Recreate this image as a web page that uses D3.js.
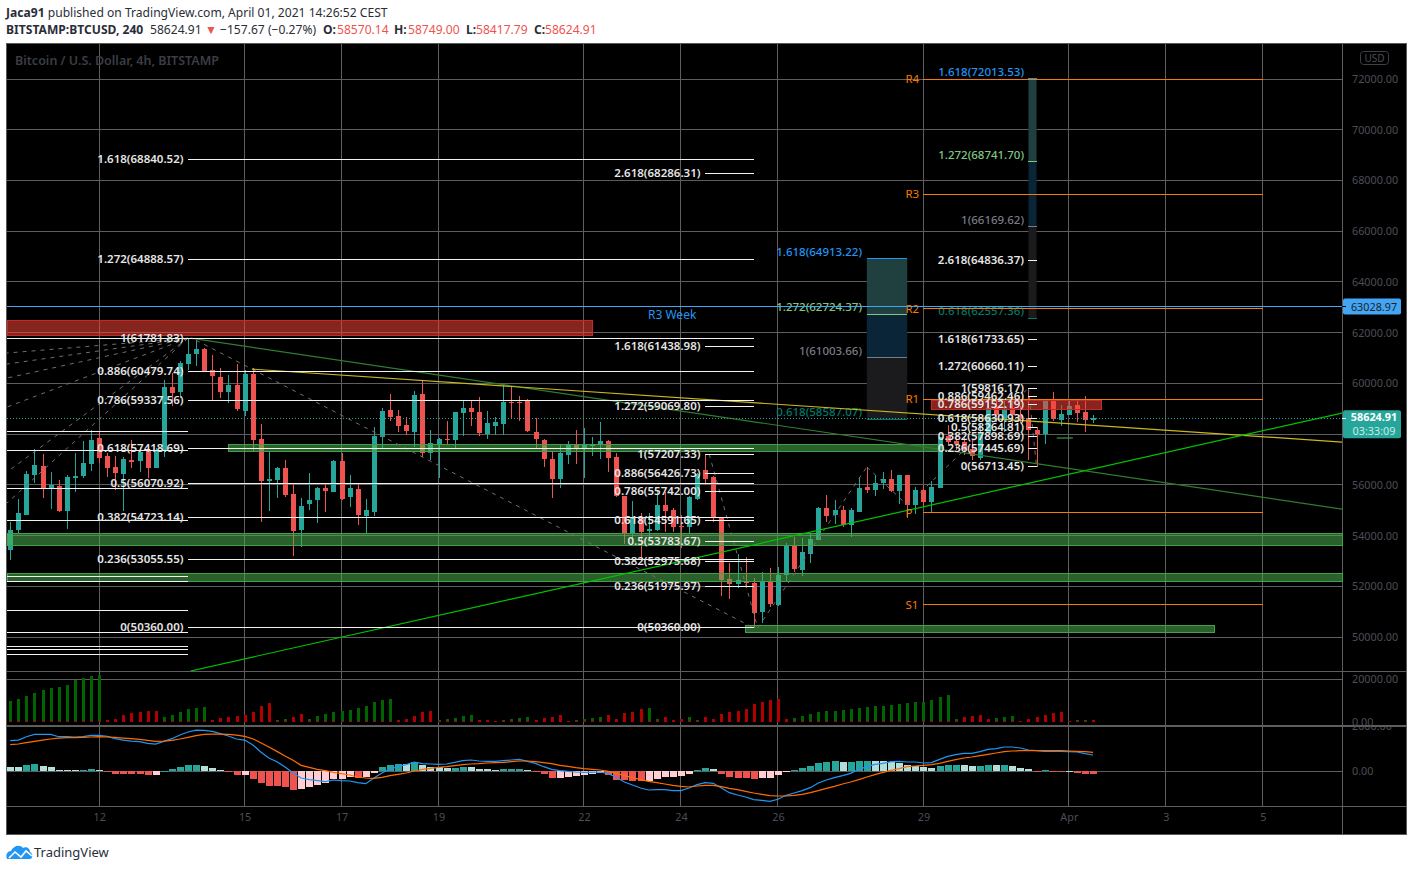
<!DOCTYPE html>
<html>
<head>
<meta charset="utf-8">
<script src="https://cdn.jsdelivr.net/npm/d3@7"></script>
<style>
  html, body { margin: 0; padding: 0; background: #fff; }
  svg { display: block; font-family: "Noto Sans", sans-serif; }
  .crisp { shape-rendering: crispEdges; }
</style>
</head>
<body>
<div id="chart"></div>
<script>
// bars are numbered from the 12 March 00:00 candle, 6 bars per day
const firstBar = -11;
const opens = [53428,54217,54808,56385,56740,55886,55952,54966,56280,56346,56819,57858,57148,56701,56425,56977,56937,57332,56662,57371,59855,59658,60762,61156,61354,60526,60250,59658,59934,58909,60368,57805,56149,56188,56662,55636,54217,55242,55400,55873,55715,56937,55518,55833,54769,54927,57884,58948,58712,
  58357,58095,59580,57267,57608,57805,57766,58831,59028,58870,58003,58318,58397,59264,59264,59343,58081,57766,57017,56228,57175,57569,57398,57529,57569,57727,57096,55558,54060,54691,54178,54217,55203,55006,54375,54336,55440,56583,56307,54691,52285,52088,52206,52128,50984,52206,51260,52443,53626,
  52640,53271,53823,55085,54809,55006,54414,54927,55913,55795,56071,56228,55755,56386,55203,55795,55321,55873,57924,57727,57687,57411,57056,58029,59080,58555,59015,58752,58621,58161,57990,59317,58555,58752,59146,58870,58570.14];
const closes = [54217,54900,56425,56780,55886,56004,54966,56294,56346,56846,57766,57069,56662,56464,57016,56898,57306,56662,57371,59855,59619,60802,61156,61354,60486,60302,59658,59934,58988,60368,57766,56149,56228,56662,55597,54177,55163,55400,55873,55755,56937,55439,55873,54808,55005,57923,58909,58672,58318,
  58121,59540,57267,57635,57805,57779,58870,59028,58870,58042,58436,58476,59264,59238,59238,58121,57805,57017,56228,57253,57569,57398,57608,57569,57727,57056,55558,54099,54691,54138,54257,55203,54966,54336,54349,55519,56425,56228,54730,52246,52088,52246,52128,50945,52206,51300,52443,53626,52680,
  53363,53862,55085,54769,55006,54414,55006,55873,55795,56071,56228,55755,56386,55203,55795,55321,55913,57884,57687,57608,57372,57135,58081,59015,58752,58949,58752,58621,58161,58003,59317,58581,58791,59107,58831,58555,58624.91];
const highs = [54545,55439,56556,57398,57214,56504,56188,56372,57240,57726,58160,58094,57240,57135,57108,57766,57503,57437,57437,60131,60394,60880,61774,61708,61380,61117,60591,60328,60762,60526,60591,58396,57332,56701,56977,56031,55479,56464,55925,56057,56977,57240,56385,56031,55439,58278,59014,59579,58948,
  58686,59711,60092,58160,57832,58515,58870,59304,59304,59461,58909,58673,59935,59895,59501,59383,58620,57805,57332,57569,57727,58160,58226,57884,58476,57766,57240,55558,55361,54875,54875,55795,55716,55085,54809,55558,56465,57175,56347,54691,52929,53271,53153,52325,52561,52719,52758,53692,53941,
  53889,54086,55137,55597,55400,55164,55085,56307,56701,56386,56504,56583,56386,56386,55926,55992,56149,57897,58357,58029,57924,57766,58423,59343,59409,59343,59500,59100,59803,58266,59343,59659,59146,59343,59343,59501,58749];
const lows = [53034,54085,54808,56083,55492,55045,54940,54256,55728,56280,56556,56846,56320,55794,54966,56648,56517,56254,56648,57108,59106,59408,60526,60696,60460,59343,59422,59238,58909,58712,57306,54545,54966,55479,55518,53192,53560,55005,54493,54940,55715,55400,55124,54414,54085,54769,57398,58515,58094,
  57963,57503,57083,56977,56255,57608,57437,57924,58318,57924,57805,57963,57963,58620,58515,58081,57451,56701,55479,55873,56820,56820,56255,57135,57017,56504,55532,53665,53692,53166,53889,54178,54138,54138,53508,54099,55400,55992,54533,51615,51497,51930,51930,50353,50550,51181,51221,52206,52561,
  52400,52929,53823,54546,54454,54323,53954,54927,55676,55558,55834,55716,55243,54677,54848,55164,54875,55873,57569,57372,57175,56977,56977,58029,58489,58100,58200,58450,56978,56713,57609,58529,58318,58752,58476,58082,58417.79];
const volumes = [9670,10610,12010,13420,14820,15760,16220,17160,19500,20440,21370,22000,780,1250,3120,4060,4520,4990,4990,2180,3120,4520,5930,6400,6860,780,1720,2180,2650,3120,4520,7330,8740,780,1250,2180,3590,1250,2650,3590,4520,4990,5460,6400,7330,9200,10140,10610,780,
  1250,2650,4520,4990,620,1250,1720,2650,3120,780,780,310,780,1250,1720,2180,780,1720,2180,3120,310,780,1250,1720,2180,3120,1250,4060,4520,5930,6400,1250,2180,780,1250,2180,780,2180,1250,3590,4520,4990,5930,8270,9200,10140,10610,1250,1720,
  2650,3590,4520,4990,4990,5460,5930,6400,6860,7330,7330,7800,8270,8740,9200,9200,10140,11540,12480,1250,2180,2650,3120,1250,1720,2180,2650,160,1250,2180,3120,4060,4520,310,620,780,620];
// "u" bars went up (green), "d" bars went down (red)
const volumeDirs = "uuuuuuuuuuuu"+"ddddddd"+"uuuuuu"+"dddddddd"+"uu"+"dd"+"uuuuuuuuuuu"+"ddddd"+"uuuuu"+"ddd"+"uuuu"+"dddd"+"uuuuu"+"ddddd"+"uu"+"ddd"+"uu"+"ddddddddddd"+"uuuuuuuuuuuuuuuuuuuuu"+"dddd"+"uuuu"+"dddddd"+"uu"+"dd";
const macdHist = [192,192,281,326,237,192,59,59,59,59,104,59,-15,-118,-118,-118,-118,-163,-163,15,104,192,281,281,237,148,59,-59,-163,-163,-340,-518,-651,-651,-696,-829,-784,-696,-607,-518,-340,-340,-252,-296,-252,-74,192,281,326,
  326,400,281,192,192,148,148,192,192,104,104,59,104,104,104,30,-30,-118,-296,-296,-252,-207,-163,-133,-89,-163,-385,-385,-429,-429,-429,-340,-252,-252,-207,-118,59,148,104,-118,-252,-296,-296,-340,-296,-296,-163,-30,59,
  148,237,370,414,459,414,414,459,459,459,459,414,370,281,237,192,148,237,281,281,281,237,237,281,281,281,237,148,104,-15,59,-15,-15,15,-74,-118,-118];
// t = rising above zero, l = falling above zero, r = falling below zero, p = rising below zero
const macdTones = "lltt"+"lllll"+"ttl"+"rrrrrr"+"p"+"ttttt"+"lll"+"rr"+"p"+"rrrrrr"+"ppppppp"+"r"+"pp"+"ttt"+"l"+"t"+"llll"+"tt"+"llll"+"ttt"+"l"+"rrr"+"pppppp"+"rrrrr"+"pppppp"+"tt"+"l"+"rrrrr"+"pppp"+"tttttt"+"l"+"ttt"+"llllllll"+"ttt"+"ll"+"tt"+"l"+"t"+"lll"+"r"+"t"+"rr"+"l"+"rrr";
const macdLine = [1347,1376,1524,1628,1628,1628,1524,1524,1510,1524,1584,1584,1539,1436,1376,1332,1302,1228,1199,1317,1436,1598,1732,1820,1806,1761,1658,1554,1421,1376,1169,844,577,414,178,-89,-311,-385,-429,-474,-400,-429,-444,-518,-562,-311,-89,89,192,
  281,400,326,311,296,311,385,459,488,444,429,429,459,488,518,429,340,192,74,15,-15,-44,-59,-59,-44,-118,-281,-488,-622,-755,-844,-829,-829,-873,-873,-755,-607,-518,-548,-755,-962,-1066,-1154,-1273,-1302,-1347,-1258,-1080,-977,
  -873,-740,-533,-400,-296,-207,-104,74,192,296,340,414,429,400,400,355,370,518,651,725,784,784,858,962,992,1066,1066,1021,932,903,873,873,873,858,844,770,710];
const signalLine = [1169,1199,1258,1317,1376,1421,1465,1480,1480,1495,1510,1524,1510,1495,1465,1436,1406,1362,1317,1332,1362,1421,1495,1569,1628,1643,1643,1628,1598,1539,1436,1258,1066,873,666,474,252,163,74,15,-59,-118,-178,-266,-311,-326,-281,-207,-148,
  -89,0,74,118,163,192,237,281,311,326,355,370,385,414,444,444,414,370,326,252,207,148,104,74,44,-15,-104,-207,-296,-385,-459,-518,-577,-636,-681,-710,-666,-636,-636,-696,-770,-829,-903,-977,-1036,-1095,-1110,-1110,-1080,
  -1036,-962,-873,-770,-681,-577,-488,-385,-266,-163,-59,30,104,192,222,252,281,340,429,503,577,622,681,740,799,858,888,903,903,903,903,903,903,888,873,858,829];

const priceTicks = d3.range(50000, 72001, 2000);
const timeTicks = [0, 18, 30, 42, 60, 72, 84, 102, 120, 132, 144];
const timeLabels = ["12", "15", "17", "19", "22", "24", "26", "29", "Apr", "3", "5"];
const lastPrice = 58624.91;
const weekR3 = 63028.97;

// fib drawings: [ratio, price]
const fibLeft = [[1.618,68840.52],[1.272,64888.57],[1,61781.83],[0.886,60479.74],[0.786,59337.56],[0.618,57418.69],[0.5,56070.92],[0.382,54723.14],[0.236,53055.55],[0,50360]];
const fibMiddle = [[2.618,68286.31],[1.618,61438.98],[1.272,59069.8],[1,57207.33],[0.886,56426.73],[0.786,55742],[0.618,54591.65],[0.5,53783.67],[0.382,52975.68],[0.236,51975.97],[0,50360]];
const fibRight = [[2.618,64836.37],[1.618,61733.65],[1.272,60660.11],[1,59816.17],[0.886,59462.46],[0.786,59152.19],[0.618,58630.93],[0.5,58264.81],[0.382,57898.69],[0.236,57445.69],[0,56713.45]];
const oldFibPrices = [61781.83,58121,57371,55873,54611,52391,52206,51063,50195,49616,49525,49316];
const boxMiddle = [[1.618,64913.22,"#2196f3"],[1.272,62724.37,"#81c784"],[1,61003.66,"#787b86"],[0.618,58587.07,"#00796b"]];
const boxRight = [[1.618,72013.53,"#2196f3"],[1.272,68741.7,"#81c784"],[1,66169.62,"#787b86"],[0.618,62557.36,"#00796b"]];
const boxFills = ["#203f3f", "#0a2438", "#1b1b1d"];
const pivotNames = ["R4", "R3", "R2", "R1", "P", "S1"];
const pivotPrices = [72000, 67450, 62950, 59370, 54890, 51280];
// zones: [first bar, last bar, top price, bottom price]
const redZones = [[-11.4,61,62497,61906],[103,124,59343,58950]];
const greenZones = [[16,104,57570,57330],[-11.4,153.8,54090,53620],[-11.4,153.8,52520,52200],[80,138,50470,50180]];
// lines: [bar, price, bar, price]
const trendDark = [11.3,61781,153.8,55045];
const trendBright = [11.3,48660,153.8,58830];
const trendYellow = [18.9,60562,153.8,57687];
const dashedLines = [
  [11,61781,-11.4,61196],[11,61781,-11.4,60762],[11,61781,-11.4,60210],[11,61781,-11.4,59067],[11,61781,-11.4,56504],[11,61781,-11.4,55282],
  [12,61700,81,50360],[75.5,57207,81.5,50360],[81.5,50360,95,56701],[95,56701,100,55203],[100,55203,115,59816],[115,59816,116,56713]
];

function drawChart() {
    const width = 1413, height = 871;
    const left = 7, right = 1342, top = 44, bottom = 834;
    const svg = d3.select("#chart").append("svg").attr("width", width).attr("height", height);

    const x = d3.scaleLinear().domain([-11.4, 153.8]).range([left, right]);
    const y = d3.scaleLinear().domain([50000, 72000]).range([637, 79]);
    const yVol = d3.scaleLinear().domain([0, 20000]).range([721.7, 679]);
    const yMacd = d3.scaleLinear().domain([-2000, 2000]).range([816, 726]);
    const bars = d3.range(opens.length);
    const barX = i => x(firstBar + i);
    const snap = v => Math.floor(v) + .5;
    const up = "#26a69a", down = "#ef5350", grid = "#5e5e5e";

    svg.append("rect").attr("x", 6.5).attr("y", 43.5).attr("width", 1400).attr("height", 791)
        .attr("fill", "#000").attr("stroke", "#5a5a5a").attr("class", "crisp");

    svg.append("defs").append("clipPath").attr("id", "mainClip")
        .append("rect").attr("x", left).attr("y", top).attr("width", right - left).attr("height", 671 - top);
    svg.select("defs").append("clipPath").attr("id", "macdAxisClip")
        .append("rect").attr("x", 0).attr("y", 726).attr("width", 66).attr("height", 60);

    // grid
    const gridG = svg.append("g").attr("class", "crisp").attr("stroke", grid);
    gridG.selectAll("line.h").data(priceTicks).enter().append("line")
        .attr("x1", left).attr("x2", right).attr("y1", d => snap(y(d))).attr("y2", d => snap(y(d)));
    gridG.selectAll("line.v").data(timeTicks).enter().append("line")
        .attr("x1", d => snap(x(d))).attr("x2", d => snap(x(d))).attr("y1", top).attr("y2", 806);
    [[20000, yVol], [0, yMacd]].forEach(([v, sc]) => {
        gridG.append("line").attr("x1", left).attr("x2", right).attr("y1", snap(sc(v))).attr("y2", snap(sc(v)));
    });
    [671, 725, 726, 806].forEach(v => {
        gridG.append("line").attr("x1", left).attr("x2", 1406).attr("y1", v + .5).attr("y2", v + .5);
    });
    gridG.append("line").attr("x1", right + .5).attr("x2", right + .5).attr("y1", top).attr("y2", bottom);

    // candles
    const candles = svg.append("g").selectAll("g").data(bars).enter().append("g")
        .attr("fill", i => closes[i] >= opens[i] ? up : down);
    candles.append("rect").attr("class", "crisp")
        .attr("x", i => Math.round(barX(i))).attr("width", 1)
        .attr("y", i => y(highs[i])).attr("height", i => y(lows[i]) - y(highs[i]));
    candles.append("rect").attr("class", "crisp")
        .attr("x", i => Math.round(barX(i)) - 2).attr("width", 5)
        .attr("y", i => y(Math.max(opens[i], closes[i])))
        .attr("height", i => Math.max(1, Math.abs(y(opens[i]) - y(closes[i]))));

    // volume
    const volG = svg.append("g").attr("class", "crisp");
    volG.selectAll("rect.v").data(bars).enter().append("rect")
        .attr("x", i => Math.round(barX(i)) - 1).attr("width", 3)
        .attr("y", i => yVol(volumes[i])).attr("height", i => yVol(0) - yVol(volumes[i]))
        .attr("fill", i => volumeDirs[i] === "u" ? "#006400" : "#b00000");
    volG.selectAll("rect.b").data(bars).enter().append("rect")
        .attr("x", i => Math.round(barX(i)) - 1).attr("width", 3)
        .attr("y", yVol(0) - .5).attr("height", 1).attr("fill", "#b00000");

    // macd
    const toneColor = { t: up, l: "#b2dfdb", r: down, p: "#ffcdd2" };
    svg.append("g").attr("class", "crisp").selectAll("rect").data(bars).enter().append("rect")
        .attr("x", i => Math.round(barX(i)) - 3).attr("width", 7)
        .attr("y", i => Math.min(yMacd(macdHist[i]), yMacd(0)))
        .attr("height", i => Math.max(1, Math.abs(yMacd(macdHist[i]) - yMacd(0))))
        .attr("fill", i => toneColor[macdTones[i]]);
    const lineGen = vals => d3.line().x(i => barX(i)).y(i => yMacd(vals[i]))(bars);
    svg.append("path").attr("d", lineGen(macdLine)).attr("fill", "none").attr("stroke", "#2196f3").attr("stroke-width", 1.2);
    svg.append("path").attr("d", lineGen(signalLine)).attr("fill", "none").attr("stroke", "#ff6d00").attr("stroke-width", 1.2);

    // fib boxes sit under everything else
    function fibBox(levels, from, to, labelEnd) {
        for (let k = 0; k < levels.length - 1; k++) {
            svg.append("rect").attr("x", x(from)).attr("width", x(to) - x(from))
                .attr("y", y(levels[k][1])).attr("height", y(levels[k + 1][1]) - y(levels[k][1]))
                .attr("fill", boxFills[k]);
        }
        levels.forEach(d => {
            svg.append("line").attr("class", "crisp").attr("x1", x(from)).attr("x2", x(to))
                .attr("y1", snap(y(d[1]))).attr("y2", snap(y(d[1]))).attr("stroke", d[2]);
            svg.append("text").attr("x", labelEnd).attr("y", y(d[1]) - 3).attr("text-anchor", "end")
                .attr("font-size", 11.5).attr("font-weight", 500).attr("fill", d[2]).text(`${d[0]}(${d[1].toFixed(2)})`);
        });
    }

    // zones
    greenZones.forEach(z => {
        svg.append("rect").attr("x", x(z[0])).attr("width", x(z[1]) - x(z[0]))
            .attr("y", y(z[2])).attr("height", y(z[3]) - y(z[2]))
            .attr("fill", "rgba(76,175,80,.55)").attr("stroke", "#43a047").attr("class", "crisp");
    });
    redZones.forEach(z => {
        svg.append("rect").attr("x", x(z[0])).attr("width", x(z[1]) - x(z[0]))
            .attr("y", y(z[2])).attr("height", y(z[3]) - y(z[2]))
            .attr("fill", "rgba(244,67,54,.55)").attr("stroke", "#c62828").attr("class", "crisp");
    });

    fibBox(boxMiddle, 95, 100, 862);
    fibBox(boxRight, 115, 116, 1024);

    // trend lines
    const drawings = svg.append("g").attr("clip-path", "url(#mainClip)");
    const segment = (d, color, w, dash) => drawings.append("line")
        .attr("x1", x(d[0])).attr("y1", y(d[1])).attr("x2", x(d[2])).attr("y2", y(d[3]))
        .attr("stroke", color).attr("stroke-width", w).attr("stroke-dasharray", dash || null);
    dashedLines.forEach(d => segment(d, "#6f6f6f", 1, "4 5"));
    segment(trendDark, "#2e7d32", 1.2);
    segment(trendYellow, "#c9b81e", 1.2);
    segment(trendBright, "#00c400", 1.2);
    segment([118.5,57845,120.5,57845], "#2e9e44", 1.2);

    // pivots
    pivotPrices.forEach((p, k) => {
        svg.append("line").attr("class", "crisp").attr("x1", x(102)).attr("x2", x(144))
            .attr("y1", snap(y(p))).attr("y2", snap(y(p))).attr("stroke", "#f57c00");
        svg.append("text").attr("x", x(102) - 18).attr("y", y(p) + 4).attr("font-size", 11.5)
            .attr("fill", "#f57c00").text(pivotNames[k]);
    });

    // R3 week and the last price line
    svg.append("line").attr("class", "crisp").attr("x1", left).attr("x2", right)
        .attr("y1", snap(y(weekR3))).attr("y2", snap(y(weekR3))).attr("stroke", "#42a5f5");
    svg.append("text").attr("x", 648).attr("y", 319).attr("font-size", 12).attr("fill", "#2196f3").text("R3 Week");
    svg.append("line").attr("x1", left).attr("x2", right).attr("y1", snap(y(lastPrice))).attr("y2", snap(y(lastPrice)))
        .attr("stroke", up).attr("stroke-width", 1).attr("stroke-dasharray", "1 2");

    // white fib lines
    const white = "#f2f2f2";
    function fibLines(levels, from, to, labelEnd) {
        levels.forEach(d => {
            svg.append("line").attr("class", "crisp").attr("x1", x(from)).attr("x2", x(to))
                .attr("y1", snap(y(d[1]))).attr("y2", snap(y(d[1]))).attr("stroke", white);
            svg.append("text").attr("x", labelEnd).attr("y", y(d[1]) + 3.5).attr("text-anchor", "end")
                .attr("font-size", 11.5).attr("font-weight", 600).attr("fill", "#e6e6e6").text(`${d[0]}(${d[1].toFixed(2)})`);
        });
    }
    oldFibPrices.forEach(p => {
        svg.append("line").attr("class", "crisp").attr("x1", left).attr("x2", x(11))
            .attr("y1", snap(y(p))).attr("y2", snap(y(p))).attr("stroke", white);
    });
    fibLines(fibLeft, 11, 81, 183.5);
    fibLines(fibMiddle, 75, 81, 700.5);
    fibLines(fibRight, 115, 116, 1024);

    // axes
    const axisText = "#4c4e57";
    const styleAxis = g => {
        g.select(".domain").remove();
        g.selectAll("text").attr("fill", axisText).attr("font-size", 10.8).attr("font-family", '"Noto Sans", sans-serif');
    };
    svg.append("g").attr("transform", `translate(${right},0)`)
        .call(d3.axisRight(y).tickValues(priceTicks).tickSize(0).tickPadding(10).tickFormat(d => d.toFixed(2))).call(styleAxis);
    svg.append("g").attr("transform", `translate(${right},0)`)
        .call(d3.axisRight(yVol).tickValues([20000, 0]).tickSize(0).tickPadding(10).tickFormat(d => d.toFixed(2))).call(styleAxis);
    svg.append("g").attr("transform", `translate(${right},0)`).attr("clip-path", "url(#macdAxisClip)")
        .call(d3.axisRight(yMacd).tickValues([2000, 0]).tickSize(0).tickPadding(10).tickFormat(d => d.toFixed(2))).call(styleAxis);
    svg.append("g").attr("transform", "translate(0,806)")
        .call(d3.axisBottom(x).tickValues(timeTicks).tickSize(0).tickPadding(7).tickFormat((d, k) => timeLabels[k])).call(styleAxis);

    // price tags
    svg.append("rect").attr("x", right + 1).attr("y", y(weekR3) - 8).attr("width", 58).attr("height", 16).attr("rx", 2).attr("fill", "#42a5f5");
    svg.append("text").attr("x", 1374).attr("y", y(weekR3) + 4).attr("text-anchor", "middle").attr("font-size", 10.8).attr("fill", "#222").text(weekR3.toFixed(2));
    svg.append("rect").attr("x", right + 1).attr("y", y(lastPrice) - 8).attr("width", 58).attr("height", 28).attr("rx", 2).attr("fill", up);
    svg.append("text").attr("x", 1374).attr("y", y(lastPrice) + 3).attr("text-anchor", "middle").attr("font-size", 10.8).attr("font-weight", 700).attr("fill", "#fff").text(lastPrice.toFixed(2));
    svg.append("text").attr("x", 1374).attr("y", y(lastPrice) + 17).attr("text-anchor", "middle").attr("font-size", 10.8).attr("fill", "#c8ebe7").text("03:33:09");
    svg.append("line").attr("class", "crisp").attr("x1", right).attr("x2", right + 4).attr("y1", snap(y(lastPrice))).attr("y2", snap(y(lastPrice))).attr("stroke", "#fff");
    svg.append("line").attr("class", "crisp").attr("x1", right).attr("x2", right + 4).attr("y1", snap(y(weekR3))).attr("y2", snap(y(weekR3))).attr("stroke", "#000");

    // USD box and watermark
    svg.append("rect").attr("x", 1360.5).attr("y", 51.5).attr("width", 28).attr("height", 13).attr("rx", 3).attr("fill", "none").attr("stroke", "#3f4046");
    svg.append("text").attr("x", 1374.5).attr("y", 62).attr("text-anchor", "middle").attr("font-size", 10).attr("fill", "#4c4e57").text("USD");
    svg.append("text").attr("x", 15).attr("y", 65).attr("font-size", 12.5).attr("font-weight", 600).attr("fill", "#3b3d45").text("Bitcoin / U.S. Dollar, 4h, BITSTAMP");

    // header
    const headColor = "#2a2e39";
    const head1 = svg.append("text").attr("x", 6).attr("y", 17).attr("font-size", 12.1).attr("fill", headColor);
    head1.append("tspan").attr("font-weight", 700).text("Jaca91");
    head1.append("tspan").text(" published on TradingView.com, April 01, 2021 14:26:52 CEST");
    const head2 = [
        [6, "BITSTAMP:BTCUSD, 240", 700, headColor],
        [150, "58624.91", 400, headColor],
        [205, "▼", 400, down],
        [220, "−157.67 (−0.27%)", 400, headColor],
        [323, "O:", 700, headColor],
        [337, "58570.14", 400, down],
        [394, "H:", 700, headColor],
        [408, "58749.00", 400, down],
        [466, "L:", 700, headColor],
        [476, "58417.79", 400, down],
        [534, "C:", 700, headColor],
        [545, "58624.91", 400, down]
    ];
    svg.append("g").selectAll("text").data(head2).enter().append("text")
        .attr("x", d => d[0]).attr("y", 34).attr("font-size", 12.1)
        .attr("font-weight", d => d[2]).attr("fill", d => d[3]).text(d => d[1]);

    // logo
    const logo = svg.append("g").attr("transform", "translate(6,845)");
    logo.append("path").attr("fill", "#2196f3")
        .attr("d", "M1 14 C-1 9 2 6 5 6 C7 1 14 -1 17 3 C20 1 24 3 24 7 C27 8 27 14 24 14 Z");
    logo.append("path").attr("fill", "none").attr("stroke", "#fff").attr("stroke-width", 1.6)
        .attr("d", "M3 13 L9 7 L15 12 L20 6 L26 11");
    svg.append("text").attr("x", 34).attr("y", 857).attr("font-size", 13).attr("fill", headColor).text("TradingView");
}

drawChart();
</script>
</body>
</html>
